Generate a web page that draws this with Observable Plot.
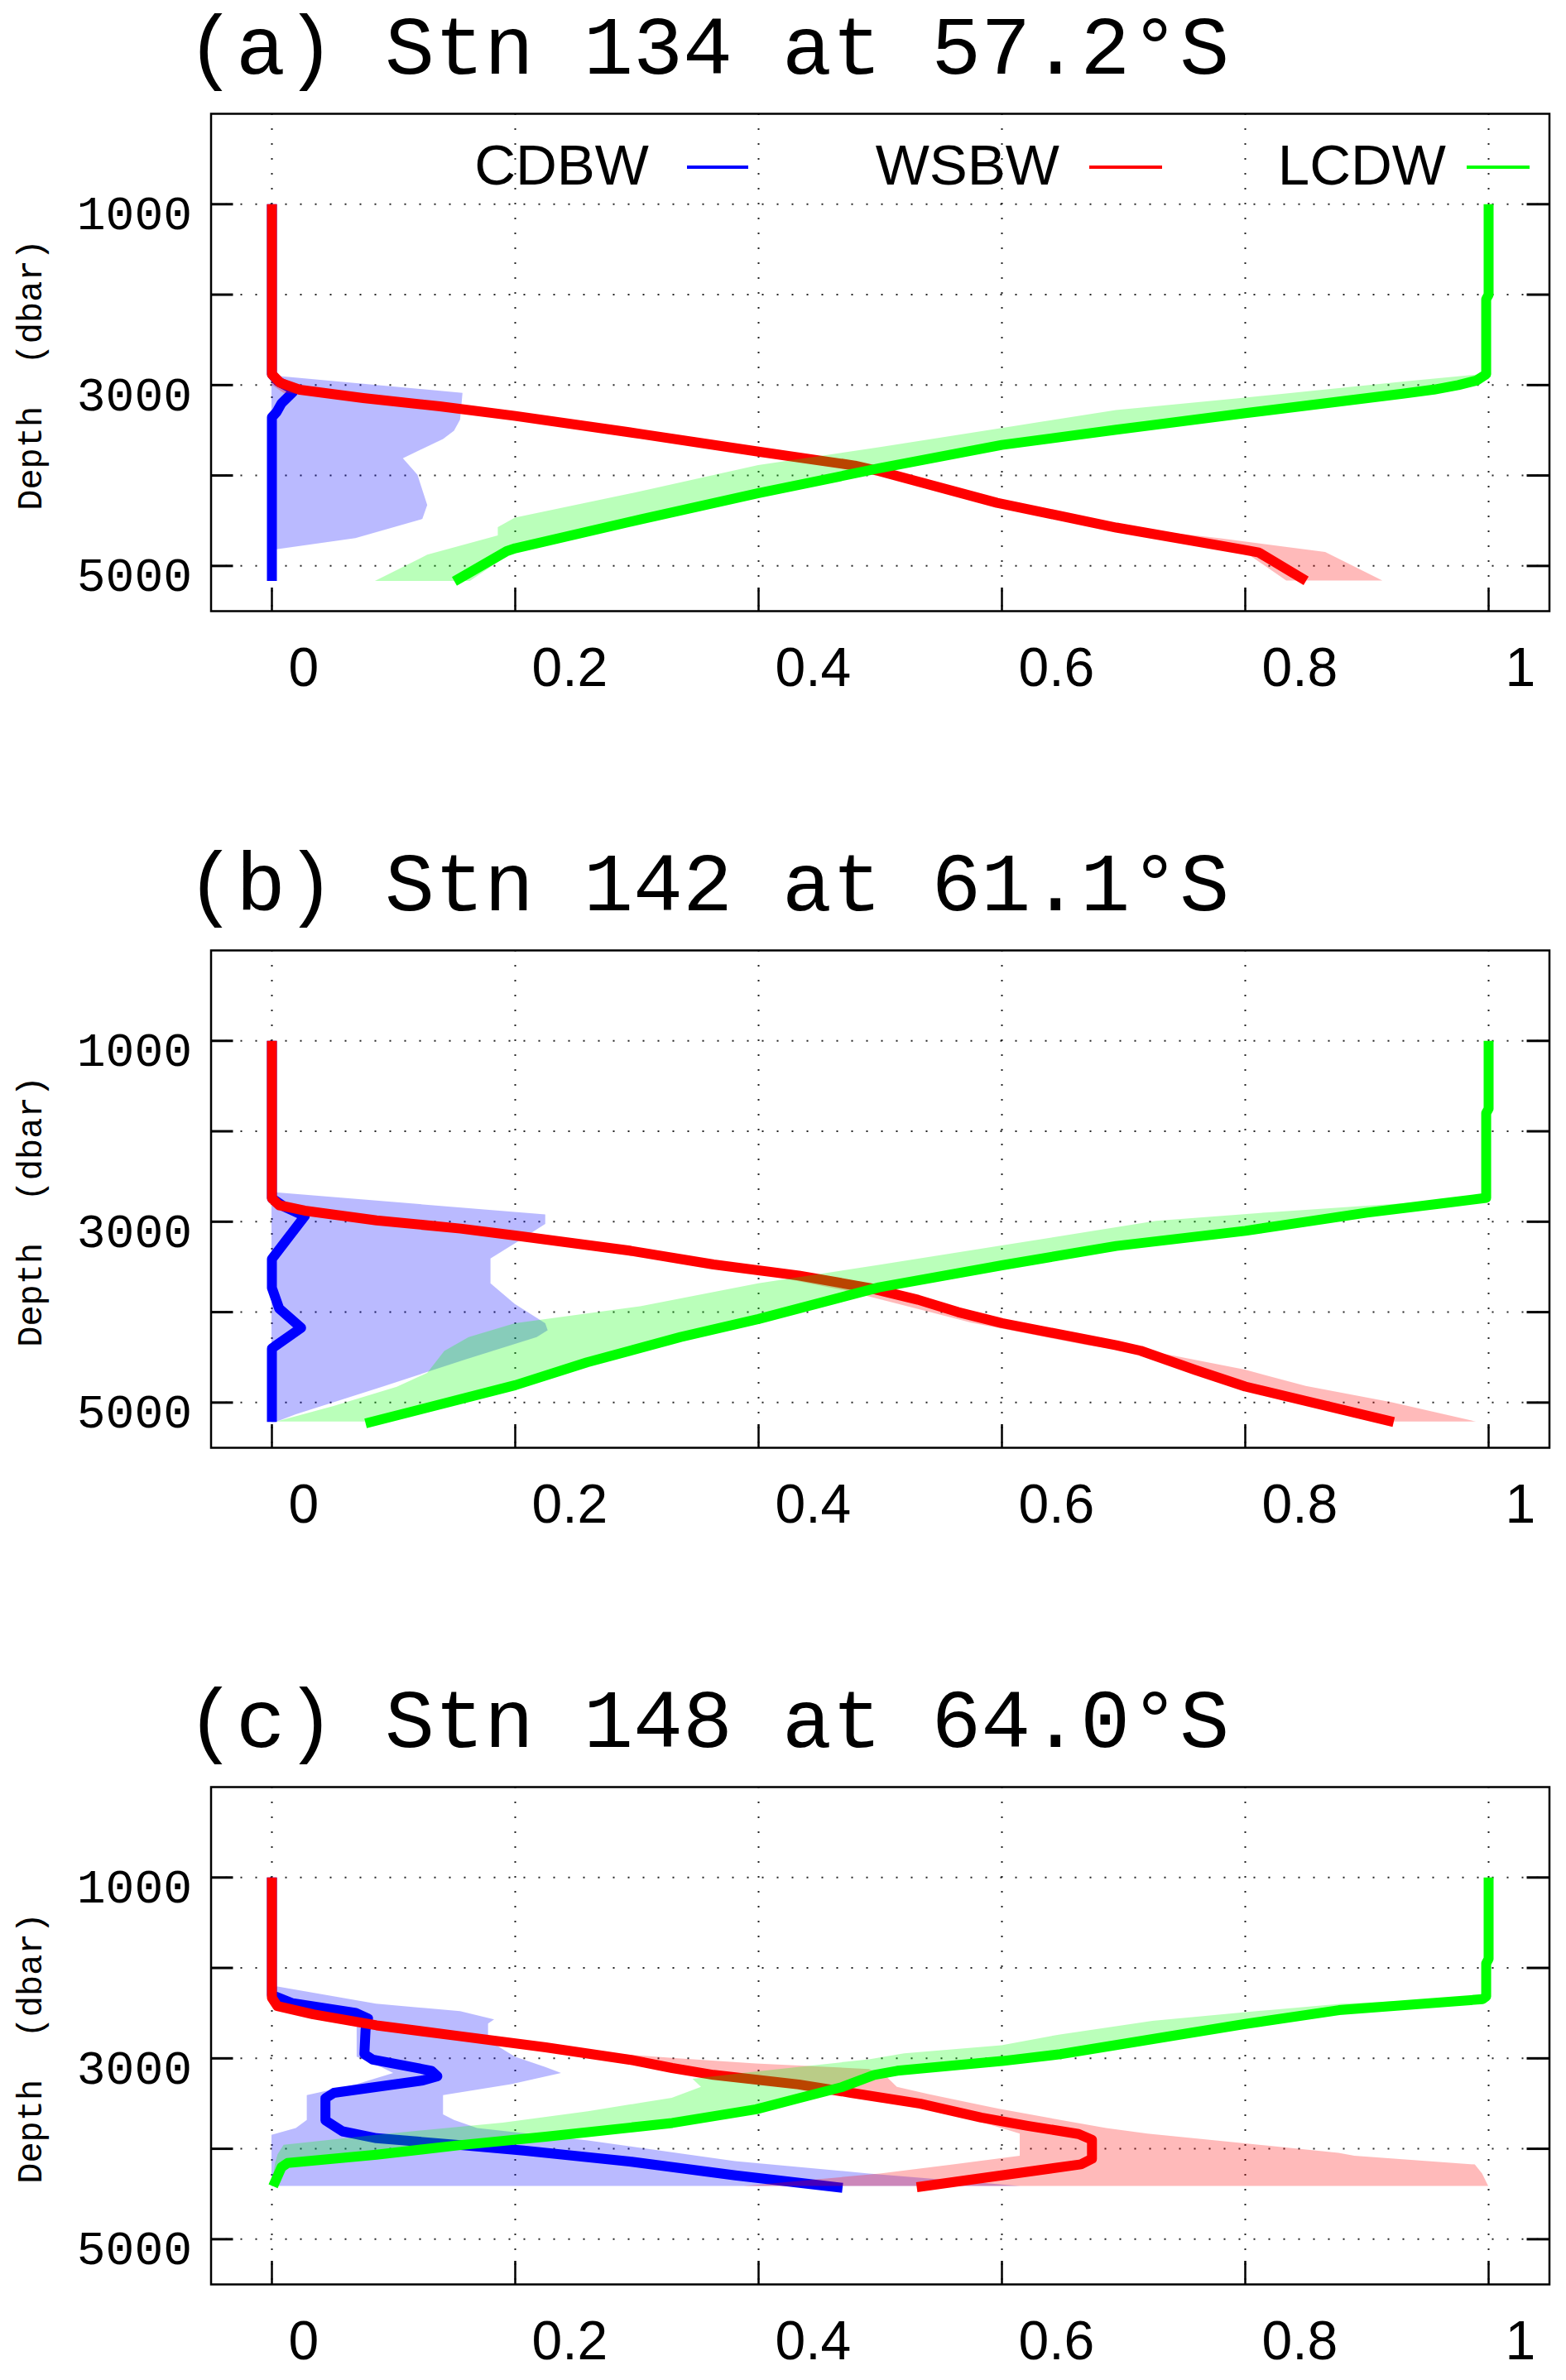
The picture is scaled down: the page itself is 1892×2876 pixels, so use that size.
<!DOCTYPE html>
<html><head><meta charset="utf-8">
<script src="https://cdn.jsdelivr.net/npm/d3@7"></script>
<script src="https://cdn.jsdelivr.net/npm/@observablehq/plot@0.6"></script>
<style>
html,body{margin:0;padding:0;background:#fff;overflow:hidden;width:1892px;height:2876px;}
.panel{position:absolute;left:0;width:1892px;}
.title{position:absolute;left:225px;top:13px;font-family:"Liberation Mono",monospace;font-size:100px;line-height:100px;white-space:pre;color:#000;}
.svgwrap{position:absolute;left:0;top:110px;}
.leg{position:absolute;font-family:"Liberation Sans",Arial,sans-serif;font-size:69px;line-height:69px;top:165px;color:#000;white-space:pre;}
.legline{position:absolute;height:4px;top:200px;}
</style></head><body><div id="root"></div>
<script>
// ---------------- data ----------------
const titles = ["(a) Stn 134 at 57.2°S", "(b) Stn 142 at 61.1°S", "(c) Stn 148 at 64.0°S"];
const seriesNames = ["CDBW", "WSBW", "LCDW"];
const seriesColors = ["#0000ff", "#ff0000", "#00ff00"];
const xTicks = [0, 0.2, 0.4, 0.6, 0.8, 1];
const yGrid = [1000, 2000, 3000, 4000, 5000];
const yLabelTicks = [1000, 3000, 5000];
const yTitle = "Depth\u00a0 (dbar)";

// lines: [depth (dbar), fraction]
const aCDBW = [[1000,0],[2880,0],[2960,0.005],[3030,0.015],[3082,0.017],[3200,0.008],[3296,0.004],[3357,0],[5165,0]];
const aWSBW = [[1000,0],[2880,0],[2976,0.007],[3052,0.023],[3143,0.075],[3235,0.138],[3341,0.2],[3540,0.303],[3738,0.401],[3890,0.479],[3951,0.499],[4302,0.596],[4576,0.694],[4820,0.798],[4851,0.811],[5165,0.85]];
const aLCDW = [[1000,1.0],[2000,1.0],[2050,0.998],[2880,0.998],[2950,0.99],[3000,0.975],[3050,0.955],[3098,0.928],[3311,0.8],[3494,0.694],[3662,0.6],[3921,0.499],[4195,0.4],[4485,0.303],[4805,0.2],[4836,0.193],[5170,0.15]];
// bands: [depth, low, high]
const aCDBWband = [[2900,0,0.003],[3091,0,0.157],[3387,0,0.155],[3509,0,0.15],[3601,0,0.141],[3814,0,0.108],[3997,0,0.12],[4332,0,0.128],[4485,0,0.124],[4698,0,0.069],[4820,0,0.004],[5165,0,0.002]];
const aWSBWband = [[2880,0,0.003],[3000,0,0.012],[3090,0.01,0.04],[3150,0.07,0.085],[3340,0.19,0.205],[3540,0.295,0.31],[3740,0.392,0.41],[3950,0.49,0.505],[4300,0.588,0.603],[4576,0.686,0.70],[4700,0.74,0.78],[4851,0.80,0.866],[5165,0.834,0.913]];
const aLCDWband = [[2890,0.99,0.998],[2960,0.934,0.988],[3143,0.8,0.905],[3280,0.694,0.82],[3479,0.6,0.705],[3692,0.499,0.59],[3890,0.4,0.515],[4180,0.303,0.41],[4470,0.2,0.312],[4576,0.186,0.275],[4668,0.186,0.25],[4881,0.128,0.195],[5170,0.085,0.163]];

const bCDBW = [[1000,0],[2741,0],[2832,0.01],[2939,0.027],[3183,0.013],[3412,0],[3732,0],[3960,0.006],[4174,0.024],[4372,0.003],[4403,0],[5215,0]];
const bWSBW = [[1000,0],[2741,0],[2817,0.006],[2878,0.027],[2985,0.086],[3076,0.155],[3152,0.2],[3320,0.294],[3473,0.363],[3595,0.433],[3732,0.491],[3863,0.531],[4000,0.564],[4122,0.6],[4366,0.694],[4427,0.714],[4640,0.759],[4823,0.8],[5215,0.922]];
const bLCDW = [[1000,1.0],[1750,1.0],[1800,0.998],[2737,0.998],[2800,0.96],[2900,0.90],[3000,0.85],[3101,0.8],[3268,0.694],[3482,0.6],[3726,0.499],[4076,0.4],[4275,0.336],[4555,0.259],[4808,0.2],[5230,0.077]];
const bCDBWband = [[2680,0,0.003],[2924,0,0.225],[3030,0,0.225],[3244,0,0.2],[3412,0,0.18],[3686,0,0.18],[3915,0,0.2],[4128,0,0.225],[4204,0,0.227],[4280,0,0.218],[4525,0,0.16],[4829,0,0.091],[5134,0,0.02],[5220,0,0.003]];
const bWSBWband = [[2741,0,0.002],[2820,0,0.008],[2880,0.005,0.028],[2985,0.06,0.088],[3150,0.175,0.2],[3320,0.27,0.294],[3600,0.41,0.435],[3760,0.47,0.5],[4000,0.54,0.566],[4120,0.575,0.6],[4370,0.67,0.695],[4430,0.70,0.72],[4640,0.76,0.80],[4820,0.80,0.85],[5000,0.85,0.92],[5215,0.92,0.99]];
const bLCDWband = [[2740,0.99,0.998],[2800,0.93,0.96],[2900,0.82,0.9],[2994,0.727,0.852],[3268,0.6,0.694],[3482,0.499,0.6],[3686,0.4,0.515],[3939,0.303,0.44],[4128,0.2,0.385],[4280,0.162,0.335],[4433,0.142,0.29],[4677,0.128,0.23],[4829,0.103,0.195],[5043,0.051,0.135],[5215,0.004,0.077]];

const cCDBW = [[1000,0],[2300,0],[2391,0.017],[2498,0.069],[2559,0.079],[2680,0.077],[2954,0.076],[3015,0.083],[3137,0.131],[3198,0.136],[3244,0.124],[3381,0.051],[3441,0.044],[3685,0.044],[3807,0.058],[3883,0.086],[3959,0.155],[4020,0.207],[4141,0.294],[4294,0.381],[4431,0.469]];
const cWSBW = [[1000,0],[2330,0],[2422,0.0045],[2513,0.034],[2635,0.086],[2756,0.155],[2878,0.225],[3015,0.294],[3107,0.329],[3183,0.363],[3289,0.433],[3381,0.476],[3502,0.533],[3654,0.583],[3746,0.621],[3837,0.663],[3900,0.674],[4111,0.674],[4172,0.665],[4425,0.53]];
const cLCDW = [[1000,1.0],[1900,1.0],[1950,0.998],[2315,0.998],[2346,0.995],[2467,0.877],[2620,0.8],[2787,0.724],[2954,0.648],[3030,0.6],[3137,0.514],[3183,0.495],[3320,0.468],[3441,0.433],[3563,0.398],[3715,0.329],[3867,0.225],[3959,0.155],[4065,0.086],[4157,0.013],[4202,0.008],[4415,0.001]];
const cCDBWband = [[2210,0,0.005],[2400,0,0.086],[2483,0.04,0.155],[2574,0.07,0.183],[2620,0.07,0.178],[2802,0.07,0.178],[2985,0.07,0.2],[3100,0.09,0.225],[3167,0.1,0.238],[3289,0.07,0.197],[3411,0.029,0.141],[3624,0.029,0.141],[3685,0.029,0.15],[3776,0.02,0.169],[3850,0,0.22],[3913,0,0.26],[4141,0,0.381],[4278,0,0.491],[4415,0,0.615]];
const cWSBWband = [[2330,0,0.002],[2420,0,0.01],[2520,0.028,0.04],[2640,0.08,0.09],[2760,0.148,0.16],[2880,0.218,0.235],[2950,0.25,0.28],[3000,0.28,0.329],[3061,0.305,0.398],[3122,0.33,0.491],[3200,0.36,0.505],[3320,0.43,0.514],[3400,0.47,0.54],[3563,0.545,0.598],[3776,0.60,0.686],[3837,0.615,0.72],[3944,0.615,0.8],[4050,0.615,0.877],[4081,0.615,0.89],[4178,0.56,0.989],[4279,0.50,0.995],[4415,0.388,1.0]];
const cLCDWband = [[2300,0.995,0.999],[2350,0.96,0.995],[2400,0.88,0.96],[2470,0.82,0.877],[2590,0.724,0.81],[2740,0.648,0.74],[2860,0.60,0.69],[2950,0.52,0.648],[3015,0.491,0.62],[3150,0.398,0.51],[3230,0.346,0.49],[3320,0.353,0.468],[3440,0.329,0.433],[3590,0.26,0.385],[3715,0.19,0.329],[3850,0.086,0.23],[3960,0.01,0.155],[4065,0.005,0.086],[4160,0.003,0.013],[4415,0,0.002]];

const panels = [
  {lines:[aCDBW,aWSBW,aLCDW], bands:[aCDBWband,aWSBWband,aLCDWband], legend:true},
  {lines:[bCDBW,bWSBW,bLCDW], bands:[bCDBWband,bWSBWband,bLCDWband], legend:false},
  {lines:[cCDBW,cWSBW,cLCDW], bands:[cCDBWband,cWSBWband,cLCDWband], legend:false}
];

// ---------------- drawing ----------------
const W = 1892, mL = 254.5, mR = 20.5, mT = 27, frameH = 601;
const frameW = W - mL - mR;
const panelStep = 1011;
const svgHeights = [901, 901, 744];
const legendRight = [784, 1280, 1747];
const legendLine = [[830,904],[1316,1404],[1772,1848]];

const root = document.getElementById("root");
panels.forEach((p, idx) => {
  const wrap = document.createElement("div");
  wrap.className = "panel";
  wrap.style.top = (idx * panelStep) + "px";
  wrap.style.height = (idx < 2 ? panelStep : 2876 - 2 * panelStep) + "px";
  const t = document.createElement("div");
  t.className = "title";
  t.textContent = titles[idx];
  wrap.appendChild(t);

  const h = svgHeights[idx];
  const marks = [
    Plot.gridX(xTicks, {stroke:"#000", strokeOpacity:0.85, strokeWidth:2, strokeDasharray:"2,16"}),
    Plot.gridY(yGrid, {stroke:"#000", strokeOpacity:0.85, strokeWidth:2, strokeDasharray:"2,16"}),
    Plot.tickX(xTicks, {x:d=>d, insetTop: frameH - 28, stroke:"#000", strokeWidth:2.5}),
    Plot.tickY(yGrid, {y:d=>d, insetRight: frameW - 27, stroke:"#000", strokeWidth:3}),
    Plot.tickY(yGrid, {y:d=>d, insetLeft: frameW - 27, stroke:"#000", strokeWidth:3})
  ];
  for (let s = 0; s < 3; s++) {
    const band = p.bands[s].map(([d,lo,hi]) => ({depth:d, lo, hi}));
    const line = p.lines[s].map(([d,v]) => ({depth:d, frac:v}));
    marks.push(Plot.areaX(band, {y:"depth", x1:"lo", x2:"hi", fill:seriesColors[s], fillOpacity:0.27}));
    marks.push(Plot.line(line, {x:"frac", y:"depth", stroke:seriesColors[s], strokeWidth:12, strokeLinejoin:"round", strokeLinecap:"butt"}));
  }
  marks.push(
    Plot.frame({stroke:"#000", strokeWidth:2.5}),
    Plot.axisX(xTicks, {tickSize:0, tickPadding:44, textAnchor:"start", dx:20, fontSize:66, fontFamily:"Liberation Sans, Arial, sans-serif", tickFormat:d=>String(+d.toFixed(1)), label:null, fill:"#000"}),
    Plot.axisY(yLabelTicks, {tickSize:0, tickPadding:23, dy:12, fontSize:58, fontFamily:"Liberation Mono, monospace", tickFormat:d=>String(d), label:null, fill:"#000"}),
    Plot.text([yTitle], {text:d=>d, frameAnchor:"left", textAnchor:"middle", lineAnchor:"middle", rotate:-90, dx:-218, dy:15, fontSize:42, fontFamily:"Liberation Mono, monospace", fill:"#000"})
  );
  const chart = Plot.plot({
    width: W, height: h,
    marginTop: mT, marginBottom: h - mT - frameH, marginLeft: mL, marginRight: mR,
    x: {domain:[-0.05, 1.05]},
    y: {domain:[0, 5500], reverse:true},
    style: {background:"white", color:"#000", overflow:"visible"},
    marks
  });
  const sw = document.createElement("div");
  sw.className = "svgwrap";
  sw.appendChild(chart);
  wrap.appendChild(sw);

  if (p.legend) {
    seriesNames.forEach((name, i) => {
      const sp = document.createElement("div");
      sp.className = "leg";
      sp.textContent = name;
      sp.style.right = (W - legendRight[i]) + "px";
      wrap.appendChild(sp);
      const ln = document.createElement("div");
      ln.className = "legline";
      ln.style.left = legendLine[i][0] + "px";
      ln.style.width = (legendLine[i][1] - legendLine[i][0]) + "px";
      ln.style.background = seriesColors[i];
      wrap.appendChild(ln);
    });
  }
  root.appendChild(wrap);
});
</script></body></html>
